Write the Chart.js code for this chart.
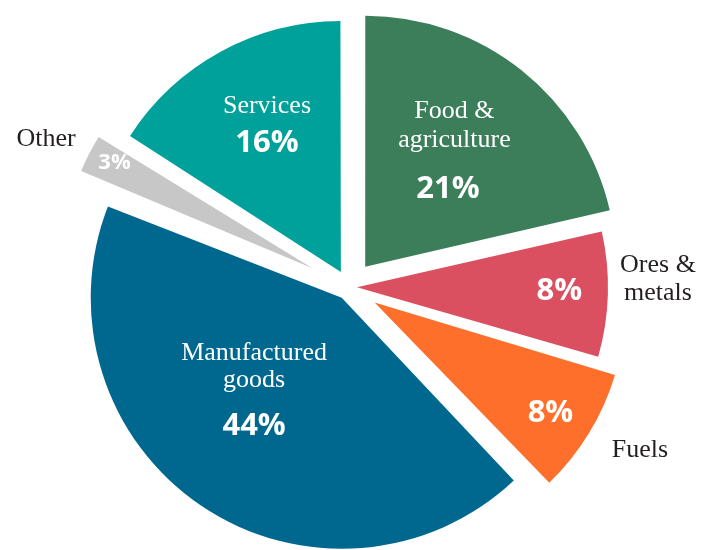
<!DOCTYPE html>
<html>
<head>
<meta charset="utf-8">
<script src="https://cdn.jsdelivr.net/npm/chart.js@4.4.1/dist/chart.umd.min.js"></script>
<style>
  html, body { margin: 0; padding: 0; background: #fff; }
  #wrap { width: 714px; height: 550px; }
</style>
</head>
<body>
<div id="wrap"><canvas id="tradeChart" width="714" height="550"></canvas></div>
<script>
// Slices go clockwise from 12 o'clock
const categories = ['Food & agriculture', 'Ores & metals', 'Fuels', 'Manufactured goods', 'Other', 'Services'];
const shares = [21.4, 8.1, 8.4, 43.1, 3.1, 15.9];
const shareLabels = ['21%', '8%', '8%', '44%', '3%', '16%'];
const nameLines = [['Food &', 'agriculture'], ['Ores &', 'metals'], ['Fuels'], ['Manufactured', 'goods'], ['Other'], ['Services']];

const sliceColors = ['#3b7e59', '#da5060', '#fe6f2c', '#00678f', '#c7c7c7', '#00a19b'];
// how far each slice is pulled out, px
const explode = [26, 8, 30, 13, 41, 17];

const serif = '"Liberation Serif", "Times New Roman", serif';
const sans = '"Open Sans", "Noto Sans", sans-serif';
const fonts = {
    name: `26px ${serif}`,
    outer: `26px ${serif}`,
    pct: `bold 31px ${sans}`,
    small: `bold 22px ${sans}`
};

// text blocks, placed from each slice's own (exploded) centre:
// a = degrees clockwise from 12 o'clock, r = share of radius, dy/dx per line
const textBlocks = [
    [{ a: 38.7, r: 0.556, lines: [[0, 'name', -40, 2], [1, 'name', -11, 2], ['pct', 'pct', 40, -4.5]] }],
    [{ a: 93.6, r: 0.808, lines: [['pct', 'pct', 0, 0]] },
     { a: 89.8, r: 1.199, lines: [[0, 'outer', -14, 0], [1, 'outer', 14, 0]] }],
    [{ a: 124.2, r: 0.847, lines: [['pct', 'pct', 0, 0]] },
     { a: 120.2, r: 1.223, lines: [[0, 'outer', 0, 0]] }],
    [{ a: 221.3, r: 0.529, lines: [[0, 'name', -37.5, 0], [1, 'name', -10.5, 0], ['pct', 'pct', 37.5, 0]] }],
    [{ a: 296.7, r: 0.883, lines: [['pct', 'small', 0, 0]] },
     { a: 294.3, r: 1.165, lines: [[0, 'outer', -2, 0]] }],
    [{ a: 332.1, r: 0.629, lines: [[0, 'name', -19.5, 0], ['pct', 'pct', 19.5, 0]] }]
];

// Chart.js grows the radius of exploded slices a little; undo that
const keepRadius = {
    id: 'keepRadius',
    beforeDatasetsDraw(chart) {
        const meta = chart.getDatasetMeta(0);
        const base = meta.controller.outerRadius;
        meta.data.forEach(arc => {
            const push = (arc.options.offset || 0) / 4;
            const fix = 1 - Math.sin(Math.min(Math.PI, arc.circumference));
            arc.outerRadius = base - push * fix;
        });
    }
};

const sliceText = {
    id: 'sliceText',
    afterDatasetsDraw(chart) {
        const ctx = chart.ctx;
        const meta = chart.getDatasetMeta(0);
        const R = meta.controller.outerRadius;
        ctx.save();
        ctx.textAlign = 'center';
        ctx.textBaseline = 'alphabetic';
        meta.data.forEach((arc, i) => {
            const half = (arc.startAngle + arc.endAngle) / 2;
            const push = (arc.options.offset || 0) / 4;
            const cx = arc.x + Math.cos(half) * push;
            const cy = arc.y + Math.sin(half) * push;
            textBlocks[i].forEach(block => {
                const phi = (block.a - 90) * Math.PI / 180;
                const ax = cx + Math.cos(phi) * block.r * R;
                const ay = cy + Math.sin(phi) * block.r * R;
                block.lines.forEach(([src, style, dy, dx]) => {
                    const text = src === 'pct' ? shareLabels[i] : nameLines[i][src];
                    ctx.font = fonts[style];
                    ctx.fillStyle = style === 'outer' ? '#231f20' : '#ffffff';
                    ctx.fillText(text, ax + dx, ay + dy);
                });
            });
        });
        ctx.restore();
    }
};

const ctx = document.getElementById('tradeChart').getContext('2d');
new Chart(ctx, {
    type: 'pie',
    data: {
        labels: categories,
        datasets: [{
            data: shares,
            backgroundColor: sliceColors,
            borderWidth: 0,
            radius: 251,
            offset: explode.map(v => v * 4)
        }]
    },
    options: {
        responsive: false,
        devicePixelRatio: 1,
        animation: false,
        events: [],
        layout: { padding: { top: 24, right: 16, bottom: 0, left: 0 } },
        plugins: {
            legend: { display: false },
            tooltip: { enabled: false }
        }
    },
    plugins: [keepRadius, sliceText]
});
</script>
</body>
</html>
